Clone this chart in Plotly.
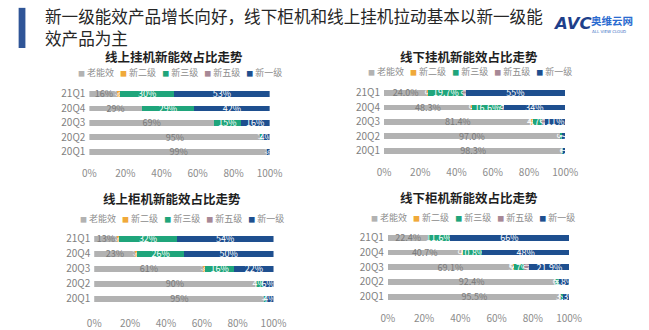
import plotly.graph_objects as go

W, H = 649, 330

# ---- data -------------------------------------------------------------
quarters = ["21Q1", "20Q4", "20Q3", "20Q2", "20Q1"]
series_names = ["老能效", "新二级", "新三级", "新五级", "新一级"]

online_split_old = [16, 29, 69, 95, 99]
online_split_lv2 = [1, 0, 0, 0, 0]
online_split_lv3 = [30, 29, 15, 1, 0]
online_split_lv5 = [0, 0, 0, 0, 0]
online_split_lv1 = [53, 42, 16, 4, 1]

offline_split_old = [24.0, 48.3, 81.4, 97.0, 98.3]
offline_split_lv2 = [0.3, 0.5, 0.9, 0, 0]
offline_split_lv3 = [19.7, 16.6, 4.7, 1.3, 0.6]
offline_split_lv5 = [1.0, 0.6, 2.0, 0, 0]
offline_split_lv1 = [55, 34, 11, 1.7, 1.1]

online_floor_old = [13, 23, 61, 90, 95]
online_floor_lv2 = [1, 1, 1, 0, 0]
online_floor_lv3 = [32, 26, 16, 4, 1]
online_floor_lv5 = [0, 0, 0, 0, 0]
online_floor_lv1 = [54, 50, 22, 6, 4]

offline_floor_old = [22.4, 40.7, 69.1, 92.4, 95.5]
offline_floor_lv2 = [0, 0.5, 0.3, 0, 0]
offline_floor_lv3 = [11.6, 10.8, 5.7, 1.8, 1.2]
offline_floor_lv5 = [0, 0, 3.0, 0, 0]
offline_floor_lv1 = [66, 48, 21.9, 5.8, 3.3]

chart_titles = ["线上挂机新能效占比走势", "线下挂机新能效占比走势",
                "线上柜机新能效占比走势", "线下柜机新能效占比走势"]
x_ticks = [0, 20, 40, 60, 80, 100]
x_tick_labels = ["0%", "20%", "40%", "60%", "80%", "100%"]

main_title = "新一级能效产品增长向好，线下柜机和线上挂机拉动基本以新一级能<br>效产品为主"

# ---- styling ----------------------------------------------------------
colors = ["#b2b2b2", "#f0a93a", "#1fa57b", "#a78896", "#1e4f8f"]
text_colors = ["#7a7a7a", "#ffffff", "#ffffff", "#ffffff", "#ffffff"]
CJK = "Noto Sans CJK SC"


def px_x(p):
    return p / W


def px_y(p):
    return 1 - p / H


charts = [
    dict(data=[online_split_old, online_split_lv2, online_split_lv3, online_split_lv5, online_split_lv1],
         decimals=[False] * 5, x0=85, x1=271, top=87.6, bottom=161.4,
         title_xy=(172, 57), legend_xy=(178, 73), standoff=7),
    dict(data=[offline_split_old, offline_split_lv2, offline_split_lv3, offline_split_lv5, offline_split_lv1],
         decimals=[True, True, True, True, False], x0=389, x1=576, top=86.6, bottom=160.4,
         title_xy=(477, 57), legend_xy=(478, 72), standoff=7),
    dict(data=[online_floor_old, online_floor_lv2, online_floor_lv3, online_floor_lv5, online_floor_lv1],
         decimals=[False] * 5, x0=90, x1=275, top=235.4, bottom=311.6,
         title_xy=(170, 202), legend_xy=(181, 222), standoff=10),
    dict(data=[offline_floor_old, offline_floor_lv2, offline_floor_lv3, offline_floor_lv5, offline_floor_lv1],
         decimals=[True, True, True, True, False], x0=393, x1=580, top=234.5, bottom=309.5,
         title_xy=(477, 201), legend_xy=(481, 221), standoff=7),
]


def label(v, dec):
    if v == 0:
        return ""
    if dec:
        return f"{v:.1f}%"
    return f"{v:g}%"


fig = go.Figure()
annotations = []

for k, ch in enumerate(charts):
    n = "" if k == 0 else str(k + 1)
    for s, values in enumerate(ch["data"]):
        fig.add_trace(go.Bar(
            y=quarters, x=values, orientation="h",
            name=series_names[s],
            marker=dict(color=colors[s], line=dict(width=0)),
            text=[label(v, ch["decimals"][s]) for v in values],
            textposition="inside", insidetextanchor="middle",
            textfont=dict(size=9, color=text_colors[s], family=CJK),
            xaxis="x" + n, yaxis="y" + n,
            showlegend=False, hoverinfo="skip",
        ))
    fig.update_layout(**{
        "xaxis" + n: dict(
            domain=[px_x(ch["x0"]), px_x(ch["x1"])], range=[0, 100],
            tickvals=x_ticks, ticktext=x_tick_labels, showgrid=False, zeroline=False,
            showline=False, ticks="", anchor="y" + n, fixedrange=True,
            tickfont=dict(size=10, color="#8c8c8c", family=CJK),
            ticklabelstandoff=ch["standoff"],
        ),
        "yaxis" + n: dict(
            domain=[px_y(ch["bottom"]), px_y(ch["top"])], type="category",
            autorange="reversed", showgrid=False, zeroline=False, showline=False,
            ticks="", anchor="x" + n, fixedrange=True, ticklabelstandoff=3,
            tickfont=dict(size=10, color="#7f7f7f", family=CJK),
        ),
    })

    tx, ty = ch["title_xy"]
    annotations.append(dict(
        x=px_x(tx), y=px_y(ty), xref="paper", yref="paper", showarrow=False,
        text=f"<b>{chart_titles[k]}</b>", xanchor="center", yanchor="middle",
        font=dict(size=12.5, color="#1f1f1f", family=CJK),
    ))

    # legend row built from the series names and colours
    items = [f'<span style="color:{c};font-size:7px">■</span>\u00a0{nm}'
             for nm, c in zip(series_names, colors)]
    lx, ly = ch["legend_xy"]
    annotations.append(dict(
        x=px_x(lx), y=px_y(ly), xref="paper", yref="paper", showarrow=False,
        text="\u00a0\u00a0\u00a0".join(items), xanchor="center", yanchor="middle",
        font=dict(size=9, color="#8c8c8c", family=CJK),
    ))

# headline
annotations.append(dict(
    x=px_x(37), y=px_y(27), xref="paper", yref="paper", showarrow=False,
    text=main_title, xanchor="left", yanchor="middle", align="left",
    font=dict(size=16.6, color="#262626", family=CJK),
))

# brand mark
annotations.append(dict(
    x=px_x(561), y=px_y(23), xref="paper", yref="paper", showarrow=False,
    text="<b><i>AVC</i></b>", xanchor="left", yanchor="middle",
    font=dict(size=16.5, color="#1e3f8a", family="DejaVu Sans"),
))
annotations.append(dict(
    x=px_x(600), y=px_y(20), xref="paper", yref="paper", showarrow=False,
    text="<b>奥维云网</b>", xanchor="left", yanchor="middle",
    font=dict(size=10.5, color="#2a6bd0", family=CJK),
))
annotations.append(dict(
    x=px_x(621), y=px_y(31), xref="paper", yref="paper", showarrow=False,
    text="ALL VIEW CLOUD", xanchor="center", yanchor="middle",
    font=dict(size=4, color="#3a6fc4", family="DejaVu Sans"),
))

fig.update_layout(
    width=W, height=H, margin=dict(l=0, r=0, t=0, b=0),
    paper_bgcolor="white", plot_bgcolor="white",
    barmode="stack", bargap=0.6,
    uniformtext=dict(minsize=8, mode="show"),
    annotations=annotations,
    shapes=[dict(type="rect", xref="paper", yref="paper",
                 x0=px_x(12), x1=px_x(19), y0=px_y(48), y1=px_y(7),
                 fillcolor="#2f5597", line=dict(width=0))],
)

fig.write_html("out.html")
